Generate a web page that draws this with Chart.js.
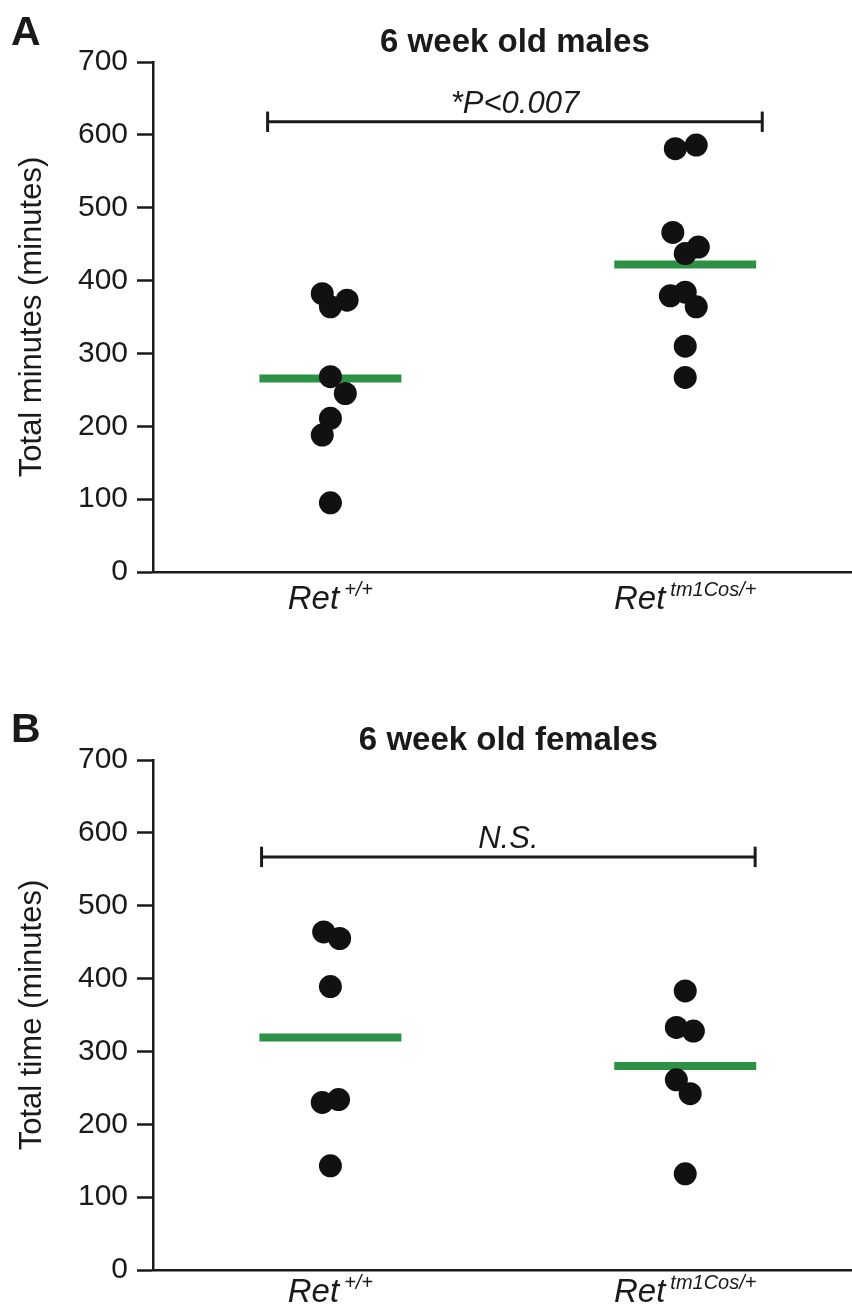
<!DOCTYPE html>
<html>
<head>
<meta charset="utf-8">
<script src="https://cdn.jsdelivr.net/npm/chart.js@4.4.0/dist/chart.umd.min.js"></script>
<style>
  body { margin: 0; background: #fff; }
  canvas { display: block; }
</style>
</head>
<body>
<canvas id="chartA" width="852" height="653"></canvas>
<canvas id="chartB" width="852" height="653"></canvas>
<script>
// genotype superscripts, shown after "Ret"
const genotypes = ['+/+', 'tm1Cos/+'];
const yTicks = [0, 100, 200, 300, 400, 500, 600, 700];

// 6 week old males, total minutes
const maleWt = [382, 373, 364, 268, 245, 211, 188, 95];
const maleWtJitter = [-0.023, 0.047, 0, 0, 0.042, 0, -0.023, 0];
const maleHet = [586, 581, 466, 446, 437, 384, 379, 364, 310, 267];
const maleHetJitter = [0.031, -0.028, -0.035, 0.037, 0, 0, -0.042, 0.031, 0, 0];

// 6 week old females, total time
const femaleWt = [464, 455, 389, 234, 230, 143];
const femaleWtJitter = [-0.019, 0.026, 0, 0.023, -0.023, 0];
const femaleHet = [383, 333, 328, 261, 242, 132];
const femaleHetJitter = [0, -0.025, 0.023, -0.025, 0.014, 0];

const FONT = '"Liberation Sans", Arial, Helvetica, sans-serif';
const INK = '#1a1a1a';

const mean = arr => arr.reduce((a, b) => a + b, 0) / arr.length;

// letters, titles, significance text and italic x labels
const annotate = {
    id: 'annotate',
    afterDatasetsDraw(chart, args, opts) {
        const { ctx } = chart;
        const x = chart.scales.x, y = chart.scales.y;
        ctx.save();
        ctx.fillStyle = INK;
        ctx.textBaseline = 'alphabetic';

        ctx.font = `bold 41px ${FONT}`;
        ctx.textAlign = 'left';
        ctx.fillText(opts.letter, 11, opts.letterY);

        const mid = (x.getPixelForValue(opts.bar[0]) + x.getPixelForValue(opts.bar[1])) / 2;
        ctx.font = `bold 33px ${FONT}`;
        ctx.textAlign = 'center';
        ctx.fillText(opts.title, mid, opts.titleY);

        ctx.font = `italic 31px ${FONT}`;
        ctx.fillText(opts.sig, mid, y.getPixelForValue(opts.bar[2]) - 9);

        genotypes.forEach((g, i) => {
            const cx = x.getPixelForValue(i + 1);
            ctx.font = `italic 33px ${FONT}`;
            const w1 = ctx.measureText('Ret').width;
            ctx.font = `italic 20px ${FONT}`;
            const w2 = ctx.measureText(g).width;
            const gap = 5;
            const left = cx - (w1 + gap + w2) / 2;
            const base = y.bottom + opts.labelGap;
            ctx.textAlign = 'left';
            ctx.font = `italic 33px ${FONT}`;
            ctx.fillText('Ret', left, base);
            ctx.font = `italic 20px ${FONT}`;
            ctx.fillText(g, left + w1 + gap, base - 13);
        });
        ctx.restore();
    }
};

function makeChart(id, groups, meta) {
    const datasets = [];
    groups.forEach((g, i) => {
        datasets.push({
            data: g.values.map((v, j) => ({ x: i + 1 + g.jitter[j], y: v })),
            backgroundColor: '#111',
            borderWidth: 0,
            pointRadius: 11.5,
            order: 0
        });
        const m = mean(g.values);
        datasets.push({
            data: [{ x: i + 1 - 0.2, y: m }, { x: i + 1 + 0.2, y: m }],
            showLine: true,
            borderColor: '#2c9145',
            borderWidth: 8,
            borderCapStyle: 'butt',
            pointRadius: 0,
            order: 1
        });
    });

    // significance bracket
    const [x0, x1, yb] = meta.bar;
    [
        [{ x: x0, y: yb - 14 }, { x: x0, y: yb + 14 }],
        [{ x: x0, y: yb }, { x: x1, y: yb }],
        [{ x: x1, y: yb - 14 }, { x: x1, y: yb + 14 }]
    ].forEach(d => datasets.push({
        data: d,
        showLine: true,
        borderColor: INK,
        borderWidth: 3,
        pointRadius: 0,
        order: 2
    }));

    return new Chart(document.getElementById(id), {
        type: 'scatter',
        data: { datasets },
        options: {
            responsive: false,
            animation: false,
            devicePixelRatio: 1,
            layout: { autoPadding: false, padding: { top: meta.top, right: 0, bottom: 0, left: 0 } },
            plugins: {
                legend: { display: false },
                tooltip: { enabled: false },
                annotate: meta
            },
            scales: {
                x: {
                    type: 'linear',
                    min: 0.5,
                    max: 2.47,
                    ticks: { display: false },
                    grid: { display: true, drawOnChartArea: false, drawTicks: false },
                    border: { color: INK, width: 2.5 },
                    afterFit: s => { s.height = meta.xAxisH; }
                },
                y: {
                    min: yTicks[0],
                    max: yTicks[yTicks.length - 1],
                    afterBuildTicks: s => { s.ticks = yTicks.map(v => ({ value: v })); },
                    ticks: { color: INK, padding: 9, font: { family: FONT, size: 30 } },
                    grid: { drawOnChartArea: false, tickLength: 16, tickColor: INK, tickWidth: 2.5 },
                    border: { color: INK, width: 2.5 },
                    title: {
                        display: true,
                        text: meta.yTitle,
                        color: INK,
                        font: { family: FONT, size: 31 },
                        padding: { top: 14, bottom: 0 }
                    },
                    afterFit: s => { s.width = 153; }
                }
            }
        },
        plugins: [annotate]
    });
}

makeChart('chartA',
    [{ values: maleWt, jitter: maleWtJitter }, { values: maleHet, jitter: maleHetJitter }],
    {
        letter: 'A', letterY: 45,
        title: '6 week old males', titleY: 52,
        sig: '*P<0.007', bar: [0.823, 2.217, 618],
        yTitle: 'Total minutes (minutes)',
        top: 62, xAxisH: 81, labelGap: 37
    });

makeChart('chartB',
    [{ values: femaleWt, jitter: femaleWtJitter }, { values: femaleHet, jitter: femaleHetJitter }],
    {
        letter: 'B', letterY: 89,
        title: '6 week old females', titleY: 97,
        sig: 'N.S.', bar: [0.806, 2.197, 567],
        yTitle: 'Total time (minutes)',
        top: 107, xAxisH: 36, labelGap: 32
    });
</script>
</body>
</html>
